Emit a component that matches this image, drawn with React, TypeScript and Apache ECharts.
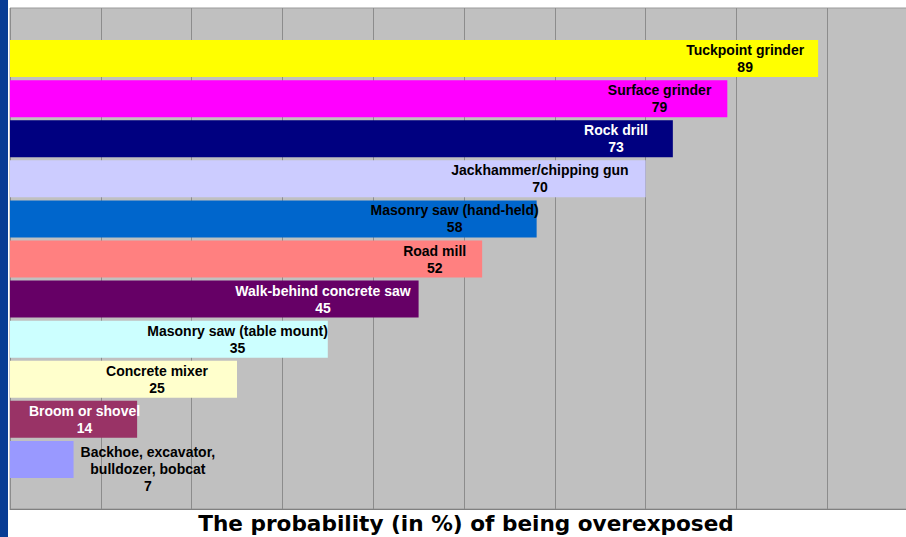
import React, { useEffect, useRef } from "react";
import * as echarts from "echarts";

const categories = [
  "Tuckpoint grinder",
  "Surface grinder",
  "Rock drill",
  "Jackhammer/chipping gun",
  "Masonry saw (hand-held)",
  "Road mill",
  "Walk-behind concrete saw",
  "Masonry saw (table mount)",
  "Concrete mixer",
  "Broom or shovel",
  "Backhoe, excavator,\nbulldozer, bobcat",
];
const values = [89, 79, 73, 70, 58, 52, 45, 35, 25, 14, 7];
const barColors = [
  "#ffff00", "#ff00ff", "#000080", "#ccccff", "#0066cc", "#ff8080",
  "#660066", "#ccffff", "#ffffcc", "#993366", "#9999ff",
];
const labelColors = [
  "#000", "#000", "#fff", "#000", "#000", "#000",
  "#fff", "#000", "#000", "#fff", "#000",
];
// label inset from the bar end (style only)
const labelInsets = [14, 16, 25, 17, -2, 16, 8, 0, 29, -3, 7];
const xTicks = [0, 10, 20, 30, 40, 50, 60, 70, 80, 90, 100];
const axisTitle = "The probability (in %) of being overexposed";

export default function App() {
  const ref = useRef<HTMLDivElement>(null);
  useEffect(() => {
    if (!ref.current) return;
    const chart = echarts.init(ref.current, null, { renderer: "svg" });
    const lastIdx = values.length - 1;
    const data = values.map((v, i) => {
      const lbl = (c: string) => ({
        color: c,
        fontFamily: "Liberation Sans, Arial, sans-serif",
        fontWeight: "bold" as const,
        fontSize: 14,
        lineHeight: 17,
        align: "center" as const,
      });
      const item: any = {
        value: v,
        itemStyle: { color: barColors[i] },
        label: {
          show: true,
          position: i === lastIdx ? "right" : "insideRight",
          distance: labelInsets[i],
          offset: i === lastIdx ? [0, 10] : [0, 0],
          rich: { n: lbl(labelColors[i]), v: lbl(labelColors[i]) },
        },
      };
      return item;
    });
    chart.setOption({
      animation: false,
      graphic: [
        {
          type: "rect",
          shape: { x: 0, y: 0, width: 8, height: 537 },
          style: { fill: "#083c94" },
          silent: true,
        },
      ],
      title: {
        text: axisTitle,
        left: 461,
        textAlign: "center",
        top: 507,
        textStyle: {
          fontFamily: "DejaVu Sans, sans-serif",
          fontWeight: "bold",
          fontSize: 21.6,
          color: "#000",
        },
      },
      grid: [
        {
          left: 10, right: 12, top: 8, bottom: 28,
          show: true, backgroundColor: "#c0c0c0", borderColor: "#9a9a9a", borderWidth: 1,
        },
        { left: 10, right: 12, top: 38.5, bottom: 57.5 },
      ],
      xAxis: [
        {
          gridIndex: 0, type: "value", min: xTicks[0], max: xTicks[xTicks.length - 1], interval: 10,
          axisLine: { show: true, lineStyle: { color: "#808080", width: 1 } },
          axisTick: { show: false }, axisLabel: { show: false },
          splitLine: { show: true, lineStyle: { color: "#8c8c8c", width: 1 } },
        },
        {
          gridIndex: 1, type: "value", min: xTicks[0], max: xTicks[xTicks.length - 1], interval: 10,
          axisLine: { show: false }, axisTick: { show: false }, axisLabel: { show: false },
          splitLine: { show: false },
        },
      ],
      yAxis: [
        {
          gridIndex: 0, type: "value", min: 0, max: 1,
          axisLine: { show: false }, axisTick: { show: false }, axisLabel: { show: false },
          splitLine: { show: false },
        },
        {
          gridIndex: 1, type: "category", data: categories, inverse: true,
          axisLine: { show: false }, axisTick: { show: false }, axisLabel: { show: false },
        },
      ],
      series: [
        {
          type: "bar",
          xAxisIndex: 1,
          yAxisIndex: 1,
          barWidth: 37,
          data,
          label: {
            show: true,
            formatter: (p: any) =>
              String(p.name).split("\n").map((s: string) => `{n|${s}}`).join("\n") +
              `\n{v|${p.value}}`,
          },
        },
      ],
    });
    return () => chart.dispose();
  }, []);
  return (
    <div
      ref={ref}
      style={{ position: "fixed", left: 0, top: 0, width: 930, height: 537, background: "#fff" }}
    />
  );
}
